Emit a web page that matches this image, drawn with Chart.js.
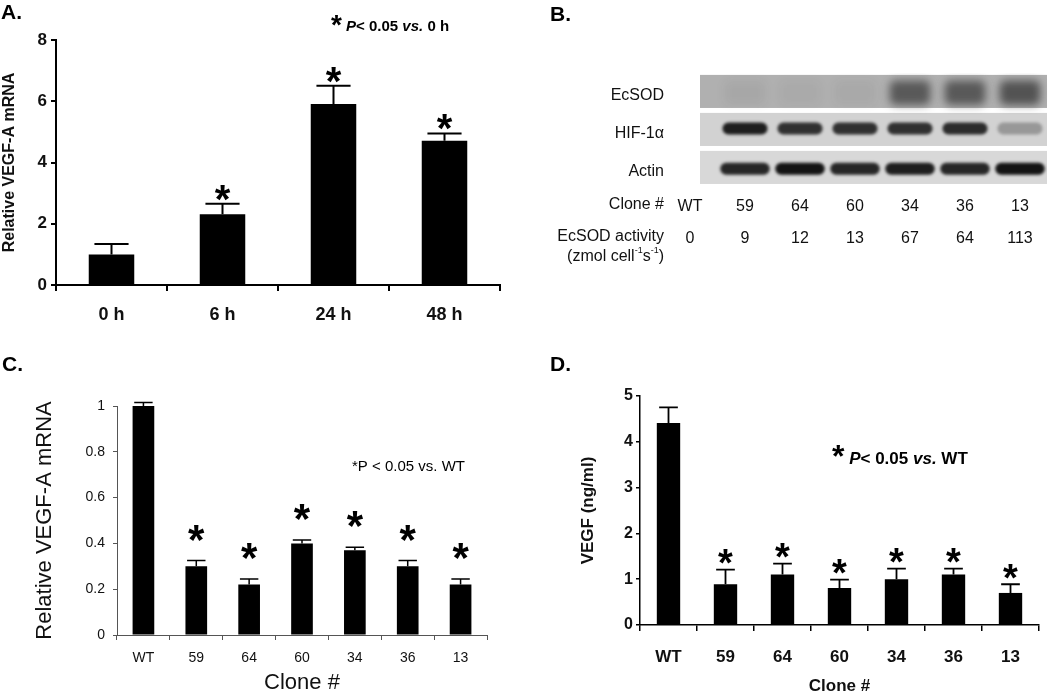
<!DOCTYPE html>
<html>
<head>
<meta charset="utf-8">
<script src="https://cdn.jsdelivr.net/npm/chart.js@4.4.1/dist/chart.umd.min.js"></script>
<style>
  body { margin: 0; background: #fff; }
  #page { position: relative; width: 1050px; height: 694px; overflow: hidden; background: #fff; }
  canvas { position: absolute; }
</style>
</head>
<body>
<div id="page">
  <canvas id="chartA" width="520" height="345" style="left:0;top:0"></canvas>
  <canvas id="chartB" width="530" height="300" style="left:520px;top:0"></canvas>
  <canvas id="chartC" width="520" height="344" style="left:0;top:350px"></canvas>
  <canvas id="chartD" width="530" height="344" style="left:520px;top:350px"></canvas>
</div>
<script>
// panel A: VEGF-A mRNA over time
const timeLabels = ['0 h', '6 h', '24 h', '48 h'];
const timeMrna = [1.0, 2.31, 5.91, 4.71];
const timeMrnaErr = [0.34, 0.34, 0.60, 0.24];
const timeMrnaSig = [false, true, true, true];

// clones used in panels B, C and D
const cloneLabels = ['WT', '59', '64', '60', '34', '36', '13'];
const ecsodActivity = ['0', '9', '12', '13', '67', '64', '113'];

// panel B: band darkness (0..1) per lane, the blot lanes sit under 59..13
const blotRows = ['EcSOD', 'HIF-1α', 'Actin'];
const ecsodBand = [null, 0.06, 0.04, 0.05, 0.62, 0.62, 0.66];
const hifBand = [null, 0.95, 0.85, 0.85, 0.85, 0.88, 0.3];
const actinBand = [null, 0.9, 1.0, 0.9, 0.95, 0.9, 1.0];

// panel C: relative VEGF-A mRNA per clone
const cloneMrna = [1.0, 0.30, 0.22, 0.40, 0.37, 0.30, 0.22];
const cloneMrnaErr = [0.015, 0.025, 0.025, 0.015, 0.013, 0.025, 0.025];
const cloneMrnaSig = [false, true, true, true, true, true, true];

// panel D: secreted VEGF (ng/ml) per clone
const cloneVegf = [4.41, 0.89, 1.10, 0.81, 1.00, 1.10, 0.70];
const cloneVegfErr = [0.34, 0.32, 0.24, 0.18, 0.23, 0.13, 0.19];
const cloneVegfSig = [false, true, true, true, true, true, true];

const FONT = '"Liberation Sans", Arial, sans-serif';
Chart.defaults.font.family = FONT;
Chart.defaults.animation = false;
Chart.defaults.plugins.legend.display = false;
Chart.defaults.plugins.tooltip.enabled = false;

// draws one glyph so that its ink is centred on (cx, cy)
function drawGlyph(ctx, text, font, cx, cy) {
  ctx.font = font;
  const m = ctx.measureText(text);
  ctx.textAlign = 'center';
  ctx.textBaseline = 'alphabetic';
  ctx.fillText(text, cx, cy + (m.actualBoundingBoxAscent - m.actualBoundingBoxDescent) / 2);
}

// text made of pieces with different fonts (italic P, superscripts...)
function drawRich(ctx, parts, x, y, align) {
  let total = 0;
  parts.forEach(p => { ctx.font = p.font; total += ctx.measureText(p.text).width; });
  let cx = align === 'right' ? x - total : x;
  parts.forEach(p => {
    ctx.font = p.font;
    const w = ctx.measureText(p.text).width;
    if (p.glyph) {
      drawGlyph(ctx, p.text, p.font, cx + w / 2, y + (p.dy || 0));
    } else {
      ctx.textAlign = 'left';
      ctx.textBaseline = 'middle';
      ctx.fillText(p.text, cx, y + (p.dy || 0));
    }
    cx += w;
  });
}

const panelText = {
  id: 'panelText',
  afterDraw(chart, args, opts) {
    const ctx = chart.ctx;
    ctx.save();
    ctx.fillStyle = opts.color || '#000';
    (opts.items || []).forEach(it => drawRich(ctx, it.parts, it.x, it.y, it.align));
    ctx.restore();
  }
};

const errorBars = {
  id: 'errorBars',
  afterDatasetsDraw(chart, args, opts) {
    const ctx = chart.ctx;
    const yScale = chart.scales.y;
    chart.data.datasets.forEach((ds, di) => {
      if (!ds.errors) return;
      const meta = chart.getDatasetMeta(di);
      meta.data.forEach((bar, i) => {
        const top = yScale.getPixelForValue(ds.data[i] + ds.errors[i]);
        const half = bar.width * opts.capRatio / 2;
        ctx.save();
        ctx.strokeStyle = '#000';
        ctx.lineWidth = opts.lineWidth;
        ctx.beginPath();
        ctx.moveTo(bar.x, bar.y);
        ctx.lineTo(bar.x, top);
        ctx.moveTo(bar.x - half, top);
        ctx.lineTo(bar.x + half, top);
        ctx.stroke();
        if (ds.stars && ds.stars[i]) {
          ctx.fillStyle = '#000';
          drawGlyph(ctx, '*', opts.starFont, bar.x, top - opts.starGap);
        }
        ctx.restore();
      });
    });
  }
};

function axisSet(o) {
  const weight = o.bold ? 'bold' : 'normal';
  return {
    x: {
      offset: true,
      grid: { drawOnChartArea: false, drawTicks: true, tickLength: o.xTick, color: o.axisColor, lineWidth: o.axisWidth, offset: true },
      border: { color: o.axisColor, width: o.axisWidth },
      ticks: { color: '#111', font: { size: o.xTickSize, weight: weight }, padding: o.xPad },
      title: o.xTitle ? { display: true, text: o.xTitle, color: '#111', font: { size: o.xTitleSize, weight: weight }, padding: { top: 0, bottom: o.xTitlePad } } : { display: false },
      afterFit(scale) { scale.height = o.xHeight; }
    },
    y: {
      min: 0, max: o.max,
      grid: { drawOnChartArea: false, drawTicks: true, tickLength: o.yTick, color: o.axisColor, lineWidth: o.axisWidth },
      border: { color: o.axisColor, width: o.axisWidth },
      ticks: {
        stepSize: o.step, color: '#111', font: { size: o.yTickSize, weight: weight }, padding: o.yPad,
        callback: v => String(Math.round(v * 10) / 10)
      },
      title: { display: true, text: o.yTitle, color: '#111', font: { size: o.yTitleSize, weight: weight }, padding: { top: o.yTitlePad, bottom: 0 } },
      afterFit(scale) { scale.width = o.yWidth; }
    }
  };
}

function barSet(values, errors, stars) {
  return [{
    data: values,
    errors: errors,
    stars: stars,
    backgroundColor: '#000',
    borderWidth: 0,
    barPercentage: 0.41,
    categoryPercentage: 1.0
  }];
}

const B15 = 'bold 15px ' + FONT;
const BI15 = 'italic bold 15px ' + FONT;

// ---------- A ----------
new Chart(document.getElementById('chartA'), {
  type: 'bar',
  data: { labels: timeLabels, datasets: barSet(timeMrna, timeMrnaErr, timeMrnaSig) },
  options: {
    responsive: false,
    layout: { padding: { left: 0, top: 40, right: 20, bottom: 0 } },
    scales: axisSet({
      max: 8, step: 2, bold: true, xTickSize: 18, yTickSize: 17, axisColor: '#000', axisWidth: 2,
      xTick: 6, xPad: 13, xHeight: 60,
      yTick: 5, yPad: 4, yWidth: 56,
      yTitle: 'Relative VEGF-A mRNA', yTitleSize: 16, yTitlePad: 0
    }),
    plugins: {
      errorBars: { capRatio: 0.75, lineWidth: 2, starFont: 'bold 40px ' + FONT, starGap: 11 },
      panelText: {
        items: [
          { x: 1, y: 13, parts: [{ text: 'A.', font: 'bold 21px ' + FONT }] },
          { x: 331, y: 27, parts: [
            { text: '*', font: 'bold 28px ' + FONT, glyph: true, dy: 1 },
            { text: ' ', font: B15 },
            { text: 'P', font: BI15 },
            { text: '< 0.05 ', font: B15 },
            { text: 'vs.', font: BI15 },
            { text: ' 0 h', font: B15 }
          ] }
        ]
      }
    }
  },
  plugins: [errorBars, panelText]
});

// ---------- B ----------
const blotBlur = {
  id: 'blotBlur',
  beforeDatasetsDraw(chart, args, opts) {
    const ctx = chart.ctx;
    const x = chart.scales.x, y = chart.scales.y;
    const left = x.getPixelForValue(1) - 45;
    const right = x.getPixelForValue(6) + 27;
    ctx.save();
    opts.shades.forEach((shade, r) => {
      const y0 = y.getPixelForValue(r + 0.05);
      const y1 = y.getPixelForValue(r + 0.92);
      ctx.fillStyle = shade;
      ctx.fillRect(left, y0, right - left, y1 - y0);
    });
    // row names on the left
    ctx.fillStyle = '#111';
    ctx.font = '16px ' + FONT;
    ctx.textAlign = 'right';
    ctx.textBaseline = 'middle';
    const lx = chart.chartArea.left + 1.5;
    blotRows.forEach((name, r) => ctx.fillText(name, lx, y.getPixelForValue(r + 0.6)));
    ctx.fillText('Clone #', lx, 205);
    ctx.fillText('EcSOD activity', lx, 237);
    const F16 = '16px ' + FONT, F9 = '9px ' + FONT;
    drawRich(ctx, [
      { text: '(zmol cell', font: F16 },
      { text: '-1', font: F9, dy: -6 },
      { text: 's', font: F16 },
      { text: '-1', font: F9, dy: -6 },
      { text: ')', font: F16 }
    ], lx, 257, 'right');
    ctx.restore();
  },
  beforeDatasetDraw(chart, args, opts) {
    chart.ctx.filter = 'blur(' + opts.blur[args.index] + 'px)';
  },
  afterDatasetDraw(chart) {
    chart.ctx.filter = 'none';
  }
};

function bandSet(levels, from, to, width, color) {
  return {
    data: levels.map(v => v == null ? null : [from, to]),
    backgroundColor: levels.map(v => 'rgba(' + color + ',' + (v || 0) + ')'),
    borderWidth: 0,
    borderRadius: 6,
    borderSkipped: false,
    grouped: false,
    barPercentage: width,
    categoryPercentage: 1.0
  };
}

new Chart(document.getElementById('chartB'), {
  type: 'bar',
  data: {
    labels: cloneLabels.map((c, i) => [c, ecsodActivity[i]]),
    datasets: [
      bandSet(ecsodBand, 0.2, 0.84, 0.74, '35,35,35'),
      bandSet(hifBand, 1.3, 1.62, 0.82, '20,20,20'),
      bandSet(actinBand, 2.36, 2.68, 0.9, '20,20,20')
    ]
  },
  options: {
    responsive: false,
    layout: { padding: { left: 142.5, top: 73, right: 2.5, bottom: 0 } },
    scales: {
      x: {
        offset: true,
        grid: { display: false },
        border: { display: false },
        ticks: { color: '#111', font: { size: 16, lineHeight: 2 }, padding: -4 },
        afterFit(scale) { scale.height = 113; }
      },
      y: { display: false, min: 0, max: 3, reverse: true }
    },
    plugins: {
      blotBlur: { shades: ['#b0b0b0', '#d2d2d2', '#d8d8d8'], blur: [4, 1.5, 1.5] },
      panelText: { items: [{ x: 30, y: 15, parts: [{ text: 'B.', font: 'bold 21px ' + FONT }] }] }
    }
  },
  plugins: [blotBlur, panelText]
});

// ---------- C ----------
new Chart(document.getElementById('chartC'), {
  type: 'bar',
  data: { labels: cloneLabels, datasets: barSet(cloneMrna, cloneMrnaErr, cloneMrnaSig) },
  options: {
    responsive: false,
    layout: { padding: { left: 0, top: 56, right: 33, bottom: 0 } },
    scales: axisSet({
      max: 1, step: 0.2, bold: false, xTickSize: 14, yTickSize: 14, axisColor: '#555', axisWidth: 1,
      xTick: 5, xPad: 10, xHeight: 59, xTitle: 'Clone #', xTitleSize: 22, xTitlePad: -2,
      yTick: 4, yPad: 8, yWidth: 117,
      yTitle: 'Relative VEGF-A mRNA', yTitleSize: 22, yTitlePad: 32
    }),
    plugins: {
      errorBars: { capRatio: 0.85, lineWidth: 1.5, starFont: 'bold 42px ' + FONT, starGap: 28 },
      panelText: {
        items: [
          { x: 2, y: 15, parts: [{ text: 'C.', font: 'bold 21px ' + FONT }] },
          { x: 352, y: 117, parts: [{ text: '*P < 0.05 vs. WT', font: '15px ' + FONT }] }
        ]
      }
    }
  },
  plugins: [errorBars, panelText]
});

// ---------- D ----------
const B17 = 'bold 17px ' + FONT;
const BI17 = 'italic bold 17px ' + FONT;
new Chart(document.getElementById('chartD'), {
  type: 'bar',
  data: { labels: cloneLabels, datasets: barSet(cloneVegf, cloneVegfErr, cloneVegfSig) },
  options: {
    responsive: false,
    layout: { padding: { left: 0, top: 46, right: 11, bottom: 0 } },
    scales: axisSet({
      max: 5, step: 1, bold: true, xTickSize: 17, yTickSize: 16, axisColor: '#000', axisWidth: 1.5,
      xTick: 6, xPad: 16, xHeight: 69, xTitle: 'Clone #', xTitleSize: 17, xTitlePad: -3,
      yTick: 4, yPad: 3, yWidth: 120,
      yTitle: 'VEGF (ng/ml)', yTitleSize: 17, yTitlePad: 58
    }),
    plugins: {
      errorBars: { capRatio: 0.8, lineWidth: 1.8, starFont: 'bold 38px ' + FONT, starGap: 13 },
      panelText: {
        items: [
          { x: 30, y: 15, parts: [{ text: 'D.', font: 'bold 21px ' + FONT }] },
          { x: 312, y: 109, parts: [
            { text: '*', font: 'bold 32px ' + FONT, glyph: true, dy: 1 },
            { text: ' ', font: B17 },
            { text: 'P', font: BI17 },
            { text: '< 0.05 ', font: B17 },
            { text: 'vs.', font: BI17 },
            { text: ' WT', font: B17 }
          ] }
        ]
      }
    }
  },
  plugins: [errorBars, panelText]
});
</script>
</body>
</html>
